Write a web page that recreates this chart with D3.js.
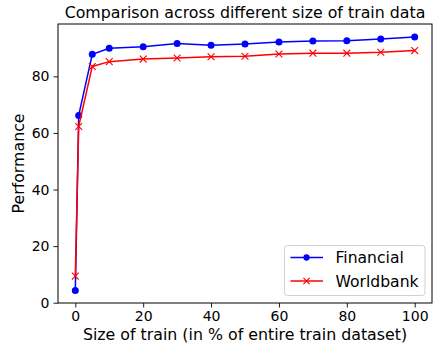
<!DOCTYPE html>
<html>
<head>
<meta charset="utf-8">
<script src="https://cdn.jsdelivr.net/npm/d3@7"></script>
<style>
  body { margin: 0; background: #fff; }
  text { font-family: "DejaVu Sans", sans-serif; fill: #000; }
</style>
</head>
<body>
<div id="chart"></div>
<script>
var sizes = [0, 1, 5, 10, 20, 30, 40, 50, 60, 70, 80, 90, 100];
var financial = [4.3, 66.2, 87.8, 89.9, 90.5, 91.6, 91.0, 91.4, 92.1, 92.5, 92.6, 93.2, 93.9];
var worldbank = [9.4, 62.3, 83.5, 85.2, 86.1, 86.5, 86.9, 87.1, 87.9, 88.2, 88.2, 88.5, 89.1];
var xTicks = [0, 20, 40, 60, 80, 100];
var yTicks = [0, 20, 40, 60, 80];

var W = 433, H = 347;
var margin = {top: 24, right: 1, bottom: 44, left: 58}
  , width = W - margin.left - margin.right
  , height = H - margin.top - margin.bottom;

var svg = d3.select("#chart").append("svg")
  .attr("width", W)
  .attr("height", H);

var g = svg.append("g")
  .attr("transform", "translate(" + margin.left + "," + margin.top + ")");

var xScale = d3.scaleLinear().domain([-5.1, 105.1]).range([0, width]);
var yScale = d3.scaleLinear().domain([-0.1, 98.5]).range([height, 0]);

var xAxis = g.append("g")
  .attr("transform", "translate(0," + height + ")")
  .call(d3.axisBottom(xScale).tickValues(xTicks).tickSize(4.5).tickPadding(4));
var yAxis = g.append("g")
  .call(d3.axisLeft(yScale).tickValues(yTicks).tickSize(4.5).tickPadding(4));

[xAxis, yAxis].forEach(function(a){
  a.select(".domain").remove();
  a.selectAll("text").style("font-size", "14px").attr("font-family", null);
  a.selectAll("line").attr("stroke", "#000").attr("stroke-width", 0.9);
});

g.append("rect")
  .attr("width", width).attr("height", height)
  .attr("fill", "none").attr("stroke", "#000").attr("stroke-width", 1);

var series = [
  {name: "Financial", values: financial, color: "#0000ff", marker: "o"},
  {name: "Worldbank", values: worldbank, color: "#ff0000", marker: "x"}
];

var line = d3.line()
  .x(function(d, i){ return xScale(sizes[i]); })
  .y(function(d){ return yScale(d); });

function drawMarker(sel, s, k) {
  k = k || 1;
  if (s.marker === "o") {
    sel.append("circle").attr("r", 3.5 * k).attr("fill", s.color);
  } else {
    var a = 3.4 * k;
    sel.append("path").attr("d", "M-" + a + ",-" + a + "L" + a + "," + a + "M-" + a + "," + a + "L" + a + ",-" + a)
      .attr("stroke", s.color).attr("stroke-width", 1.1);
  }
}

series.forEach(function(s){
  g.append("path")
    .datum(s.values)
    .attr("fill", "none")
    .attr("stroke", s.color)
    .attr("stroke-width", 1.5)
    .attr("d", line);
  g.selectAll(".m-" + s.marker)
    .data(s.values)
    .enter().append("g")
    .attr("class", "m-" + s.marker)
    .attr("transform", function(d, i){ return "translate(" + xScale(sizes[i]) + "," + yScale(d) + ")"; })
    .each(function(){ drawMarker(d3.select(this), s); });
});

// title and axis labels
svg.append("text")
  .attr("x", margin.left + width / 2).attr("y", 17.5)
  .attr("text-anchor", "middle").style("font-size", "15.8px")
  .text("Comparison across different size of train data");
svg.append("text")
  .attr("x", margin.left + width / 2).attr("y", 340)
  .attr("text-anchor", "middle").style("font-size", "15.8px")
  .text("Size of train (in % of entire train dataset)");
svg.append("text")
  .attr("transform", "translate(24," + (margin.top + height / 2) + ") rotate(-90)")
  .attr("text-anchor", "middle").style("font-size", "15.8px")
  .text("Performance");

// legend
var lg = svg.append("g").attr("transform", "translate(284.5,245.5)");
lg.append("rect").attr("width", 140.5).attr("height", 50).attr("rx", 3)
  .attr("fill", "#fff").attr("fill-opacity", 0.8)
  .attr("stroke", "#d0d0d0").attr("stroke-width", 1);
series.forEach(function(s, i){
  var row = lg.append("g").attr("transform", "translate(0," + (12 + i * 23.5) + ")");
  row.append("line").attr("x1", 6).attr("x2", 38.5)
    .attr("stroke", s.color).attr("stroke-width", 1.5);
  drawMarker(row.append("g").attr("transform", "translate(22,0)"), s, 0.9);
  row.append("text").attr("x", 51).attr("y", 5.5).style("font-size", "15.6px").text(s.name);
});
</script>
</body>
</html>
